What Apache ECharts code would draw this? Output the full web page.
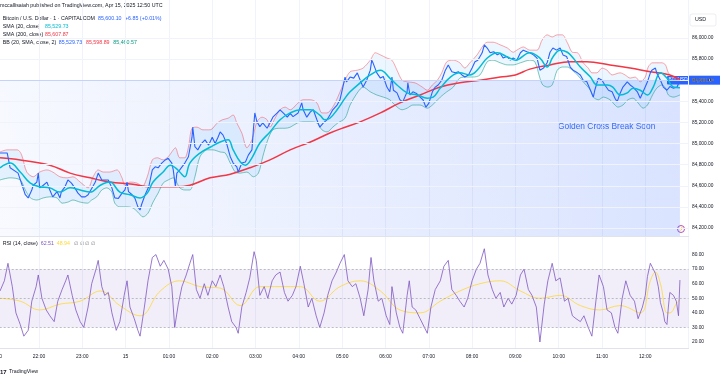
<!DOCTYPE html>
<html><head><meta charset="utf-8">
<script src="https://cdn.jsdelivr.net/npm/echarts@6/dist/echarts.min.js"></script>
<style>html,body{margin:0;padding:0;background:#fff}#c{width:720px;height:380px}</style>
</head><body><div id="c"></div>
<script>
// x values are minutes after 21:00 (Apr 14); 180 = 00:00 Apr 15
const priceMin = [6,16,20,31,41,45,50,52,57,59,61,66,71,75,79,85,89,91,96,100,105,110,114,119,124,128,133,138,142,147,152,156,161,165,170,175,179,182,184,189,193,197,200,202,207,212,217,221,225,230,235,239,244,246,249,251,255,262,267,272,273,276,280,285,290,295,300,304,308,311,315,320,325,329,334,336,341,346,350,355,357,359,362,366,370,376,380,384,390,394,399,404,408,412,419,424,426,431,436,440,445,449,454,459,463,467,473,477,481,484,486,491,496,501,505,509,514,519,521,523,528,533,537,542,546,549,551,556,560,564,570,571,574,578,583,588,592,596,600,605,609,613,618,623,627,632,637,641,646,650,655,660,664,668,674,677,681,685,690,695,699,703,708,713,717,722,727,731,736,740,745,750,754,759,764,768,772,777,782,786,791,796,800,806,810,814,819,824,828,830,835,840,844,849,854,858,861,865,869,875,879,883,889,893,897,903,907,909,914,916,921,925,930,934,939,944,948];
const priceVal = [84910,84910,84770,84720,84515,84485,84560,84605,84635,84720,84580,84605,84635,84560,84495,84545,84485,84545,84590,84655,84625,84575,84530,84495,84495,84515,84575,84635,84720,84655,84655,84655,84580,84485,84480,84530,84560,84635,84545,84515,84480,84400,84370,84420,84515,84590,84750,84780,84770,84815,84845,84860,84815,84750,84590,84720,84750,84815,84875,85060,85155,84970,84940,85000,85035,84985,85060,85000,85060,85110,85080,85000,84875,84815,84780,84730,84815,84825,84890,84940,85130,85290,85205,85160,85195,85145,85195,85250,85290,85320,85285,85250,85285,85255,85290,85385,85320,85250,85300,85320,85225,85155,85195,85225,85270,85320,85365,85415,85535,85630,85585,85630,85620,85670,85600,85535,85600,85695,85790,85760,85670,85620,85635,85535,85490,85630,85505,85480,85415,85395,85490,85575,85460,85490,85475,85440,85415,85345,85380,85490,85535,85555,85600,85695,85745,85680,85670,85680,85650,85630,85650,85715,85775,85790,85860,85935,85905,85860,85870,85840,85855,85810,85825,85790,85810,85790,85860,85885,85870,85860,85840,85810,85695,85715,85765,85865,85905,85885,85905,85840,85825,85725,85695,85670,85650,85600,85585,85505,85440,85505,85620,85600,85555,85505,85490,85430,85395,85475,85535,85585,85555,85535,85490,85430,85490,85585,85670,85695,85715,85665,85600,85535,85505,85540,85525,85535,85600.10];

const sma200Min = [6,34,75,103,131,158,190,214,249,269,297,325,352,380,408,436,463,484,505,533,560,588,616,643,671,699,720,740,768,796,819,851,879,907,934,948];
const sma200Val = [84865,84845,84795,84720,84675,84635,84615,84590,84590,84605,84675,84710,84770,84845,84940,85015,85100,85155,85205,85290,85385,85460,85535,85575,85600,85630,85650,85705,85745,85775,85775,85745,85715,85680,85650,85607.87];

const sma20Min = [6,20,34,48,61,75,89,103,117,131,145,158,172,186,200,210,218,232,242,249,255,262,269,283,297,311,322,329,339,346,355,366,380,394,408,422,436,449,456,463,473,484,491,505,519,533,546,556,570,584,598,606,616,630,643,657,667,681,695,709,720,740,754,764,772,782,792,800,810,824,833,847,855,865,875,883,893,903,911,921,930,939,948];
const sma20Val = [84770,84815,84730,84625,84590,84580,84540,84580,84560,84540,84605,84635,84540,84515,84485,84530,84635,84730,84795,84770,84730,84685,84815,84910,84965,85015,85035,84940,84825,84795,84865,85005,85110,85225,85290,85320,85320,85270,85225,85240,85320,85430,85490,85575,85650,85695,85620,85555,85480,85460,85430,85440,85525,85630,85670,85650,85695,85810,85860,85820,85790,85860,85810,85725,85820,85885,85865,85810,85725,85630,85555,85555,85535,85460,85480,85525,85505,85460,85535,85670,85620,85535,85529.73];

const bbUpperMin = [6,16,30,36,43,52,61,71,79,89,99,107,117,128,135,142,149,158,168,175,179,186,196,203,210,217,224,232,239,246,249,255,262,267,272,279,287,297,307,314,322,329,334,341,348,355,362,369,376,380,387,394,401,408,419,426,436,445,452,459,467,474,484,491,501,509,519,526,533,542,549,556,563,570,581,591,598,605,612,618,625,634,643,650,657,667,674,681,689,699,709,717,722,731,740,750,757,764,771,778,785,792,799,806,814,821,826,833,840,847,854,865,872,879,886,893,900,904,910,916,923,928,932,939,948];
const bbUpperVal = [84920,84940,84940,84890,84730,84685,84730,84750,84730,84685,84675,84685,84635,84580,84685,84750,84730,84730,84750,84675,84605,84635,84625,84590,84685,84845,84865,84845,84875,84940,84960,84865,84865,84965,85145,85155,85130,85130,85195,85225,85240,85270,85195,85100,84960,85035,85205,85250,85225,85155,85240,85320,85345,85320,85385,85415,85415,85385,85290,85290,85345,85440,85600,85680,85695,85715,85790,85860,85840,85810,85790,85695,85600,85585,85575,85535,85505,85555,85600,85670,85775,85790,85765,85715,85765,85840,85915,85960,85960,85935,85905,85865,85885,85915,85885,85885,85980,86030,86010,86030,86030,85955,85865,85860,85765,85715,85670,85670,85715,85695,85650,85670,85650,85620,85630,85585,85630,85725,85765,85765,85765,85745,85670,85620,85598.89];

const bbLowerMin = [6,20,34,41,48,57,66,75,85,92,100,107,117,127,133,140,147,154,161,165,172,182,190,197,204,211,218,225,232,239,246,255,262,269,276,283,293,301,311,318,325,332,339,348,357,364,370,377,384,394,401,408,418,426,436,445,452,459,467,474,484,491,502,509,519,528,537,546,553,563,570,578,588,598,605,616,625,634,643,653,661,671,681,689,699,709,717,727,740,747,754,758,765,771,778,785,792,799,806,814,824,828,835,842,851,858,862,869,876,883,890,897,903,910,916,923,928,932,939,948];
const bbLowerVal = [84655,84675,84655,84560,84485,84465,84485,84495,84485,84435,84445,84465,84445,84435,84465,84495,84560,84580,84540,84435,84400,84400,84390,84350,84305,84340,84445,84530,84625,84655,84675,84580,84560,84560,84685,84875,84940,84940,84920,84910,84815,84730,84720,84730,84685,84720,84875,85035,85130,85145,85145,85155,85195,85205,85205,85195,85130,85110,85155,85195,85240,85365,85490,85535,85490,85460,85440,85415,85365,85320,85335,85365,85365,85335,85365,85440,85490,85535,85620,85630,85630,85650,85775,85790,85765,85745,85745,85765,85790,85775,85620,85555,85535,85555,85695,85725,85725,85695,85650,85585,85505,85440,85415,85440,85415,85365,85345,85365,85415,85430,85385,85335,85365,85460,85525,85555,85525,85460,85440,85460.57];

const rsiMin = [6,12,17,23,28,34,39,45,50,56,59,64,70,75,81,86,92,97,100,106,111,117,122,128,133,139,142,147,151,156,161,167,172,178,182,186,192,197,200,206,211,217,222,228,233,239,244,248,253,258,264,269,273,278,283,289,294,300,305,311,316,322,327,333,336,341,347,352,358,361,366,372,377,383,388,394,400,405,411,416,422,427,433,438,444,449,455,460,466,472,477,483,488,494,499,505,510,516,520,524,530,535,541,546,549,555,560,564,570,573,577,582,588,594,598,603,609,616,621,627,632,638,643,649,654,660,666,671,677,682,688,693,699,704,710,715,721,727,732,738,743,749,754,760,765,771,776,782,788,793,799,804,810,815,821,826,832,836,842,847,853,858,862,868,873,879,885,890,896,900,903,907,909,914,918,921,925,927,930,932,934,939,943,946,948];
const rsiVal = [55,62,74,58,40,32,24,28,48,58,66,50,42,38,34,48,56,62,66,52,42,34,30,44,60,70,76,58,52,54,40,28,34,52,62,44,36,28,24,44,62,78,80,72,76,70,58,30,46,58,66,74,80,56,50,60,52,62,58,66,58,44,34,30,26,44,54,64,82,76,52,58,50,62,66,68,54,48,52,58,72,60,44,50,38,30,40,52,62,68,74,80,62,58,60,50,38,56,78,62,48,50,38,32,58,40,30,26,52,62,44,42,36,30,26,44,56,62,72,76,56,52,48,44,50,62,70,74,84,66,56,50,54,44,50,46,52,66,70,56,52,44,20,46,62,74,62,64,48,50,38,36,34,38,30,24,50,66,58,42,40,30,26,50,62,52,48,36,44,52,65,74,72,67,58,47,40,34,32,44,54,52,48,38,62.51];

const rsiMaMin = [6,34,61,89,117,145,172,200,228,255,283,311,339,366,394,422,449,477,505,533,560,588,616,643,671,699,727,754,782,810,837,865,893,907,914,921,930,934,944,948];
const rsiMaVal = [50,48,42,46,48,55,45,38,55,62,58,57,45,58,58,58,48,58,62,55,42,40,48,55,60,62,55,50,52,45,42,45,40,62,68,60,40,40,47,48.94];

const priceTicks = [84200,84400,84600,84800,85000,85200,85400,85600,85800,86000];
const rsiTicks = [20,30,40,50,60,70,80];

const FONT = 'Liberation Sans, Arial, sans-serif';
const zip = (a, b) => a.map((v, i) => [v, b[i]]);
const lastPrice = priceVal[priceVal.length - 1];
const lastMin = priceMin[priceMin.length - 1];

const chart = echarts.init(document.getElementById('c'), null, {renderer: 'canvas'});

const timeFmt = v => {
  const h = (21 + v / 60) % 24;
  if (h === 0) return '15';
  return String(h).padStart(2, '0') + ':00';
};

const FS = 5.3;
const txt = (x, y, s, color, extra) => Object.assign({
  type: 'text', x: x, y: y, silent: true,
  style: {text: s, fill: color || '#131722', font: FS + 'px ' + FONT, textVerticalAlign: 'middle'}
}, extra || {});

const hdr = [
  txt(0, 6, 'mccallisaiah published on TradingView.com, Apr 15, 2025 12:50 UTC'),
  txt(2.7, 19, 'Bitcoin / U.S. Dollar · 1 · CAPITALCOM'),
  txt(98, 19, '85,600.10', '#2962ff'),
  txt(125, 19, '+6.85 (+0.01%)', '#2962ff'),
  txt(2.7, 26.7, 'SMA (20, close)'),
  txt(45, 26.7, '85,529.73', '#00bcd4'),
  txt(2.7, 34.3, 'SMA (200, close)'),
  txt(45, 34.3, '85,607.87', '#f23645'),
  txt(2.7, 42.3, 'BB (20, SMA, close, 2)'),
  txt(58.7, 42.3, '85,529.73', '#2962ff'),
  txt(86, 42.3, '85,598.89', '#f23645'),
  txt(113.3, 42.3, '85,460.57', '#089981'),
  txt(2.7, 244, 'RSI (14, close)'),
  txt(40.7, 244, '62.51', '#7e57c2'),
  txt(56.7, 244, '48.94', '#fdd835'),
  txt(74, 244, '∅', '#787b86'),
  txt(79.5, 244, '∅', '#787b86'),
  txt(85, 244, '∅', '#787b86'),
  txt(90.7, 244, '∅', '#787b86'),
  {type: 'rect', shape: {x: 690, y: 14, width: 26, height: 12, r: 2}, silent: true,
   style: {fill: '#fff', stroke: '#e0e3eb', lineWidth: 0.6}},
  txt(695, 20, 'USD'),
  {type: 'text', x: 558, y: 127, silent: true,
   style: {text: 'Golden Cross Break Soon', fill: '#3a6cf4', font: '8.4px ' + FONT, textVerticalAlign: 'middle'}},
  {type: 'text', x: 0, y: 372, silent: true,
   style: {text: '17', fill: '#131722', font: 'bold 6px ' + FONT, textVerticalAlign: 'middle'}},
  txt(9, 372, 'TradingView'),
  {type: 'circle', shape: {cx: 681, cy: 229, r: 3.5}, silent: true,
   style: {fill: '#fff', stroke: '#9c27b0', lineWidth: 0.8}},
  {type: 'text', x: 681, y: 229, silent: true,
   style: {text: '⚡', fill: '#9c27b0', font: '4px ' + FONT, textAlign: 'center', textVerticalAlign: 'middle'}}
];

const option = {
  animation: false,
  backgroundColor: '#ffffff',
  textStyle: {fontFamily: FONT},
  grid: [
    {left: -4.3, right: 31.4, top: 0, height: 236, outerBoundsMode: 'none', containLabel: false},
    {left: -4.3, right: 31.4, top: 237, height: 111, outerBoundsMode: 'none', containLabel: false}
  ],
  xAxis: [
    {type: 'value', gridIndex: 0, min: 0, max: 960, interval: 60,
     axisLine: {show: true, lineStyle: {color: '#e0e3eb', width: 1}}, axisTick: {show: false},
     axisLabel: {show: false}, splitLine: {show: true, lineStyle: {color: '#f0f3fa', width: 1}}},
    {type: 'value', gridIndex: 1, min: 0, max: 960, interval: 60,
     axisLine: {show: true, lineStyle: {color: '#e0e3eb', width: 1}}, axisTick: {show: false},
     axisLabel: {show: true, formatter: timeFmt, fontSize: 5, color: '#131722', margin: 6, fontFamily: FONT,
       showMaxLabel: false, showMinLabel: true, hideOverlap: false},
     splitLine: {show: true, lineStyle: {color: '#f0f3fa', width: 1}}}
  ],
  yAxis: [
    {type: 'value', gridIndex: 0, position: 'right', min: 84124, max: 86360, scale: true,
     axisLine: {show: true, lineStyle: {color: '#e0e3eb', width: 0.8}}, axisTick: {show: false},
     splitLine: {show: false},
     axisLabel: {show: true, customValues: priceTicks, margin: 3.4, fontSize: 4.8, color: '#131722', fontFamily: FONT,
       formatter: v => v.toLocaleString('en-US', {minimumFractionDigits: 2, maximumFractionDigits: 2})}},
    {type: 'value', gridIndex: 1, position: 'right', min: 15.88, max: 92.06, scale: true,
     axisLine: {show: true, lineStyle: {color: '#e0e3eb', width: 0.8}}, axisTick: {show: false},
     splitLine: {show: false},
     axisLabel: {show: true, customValues: rsiTicks, margin: 3.4, fontSize: 4.8, color: '#131722', fontFamily: FONT,
       formatter: v => v.toFixed(2)}}
  ],
  series: [
    {type: 'line', name: 'helper', xAxisIndex: 0, yAxisIndex: 0, z: 0, silent: true,
     data: [[lastMin, lastPrice]], symbol: 'none', lineStyle: {opacity: 0},
     markArea: {silent: true, data: [[
       {xAxis: 0, yAxis: lastPrice, itemStyle: {
         color: {type: 'linear', x: 1, y: 0, x2: 0, y2: 1, colorStops: [
           {offset: 0, color: 'rgba(41,98,255,0.18)'}, {offset: 1, color: 'rgba(41,98,255,0.03)'}]},
         borderWidth: 0}},
       {xAxis: lastMin, yAxis: 84124}
     ]]},
     markLine: {silent: true, symbol: 'none', label: {show: false},
       lineStyle: {color: '#f0f3fa', width: 1, type: 'solid'},
       data: priceTicks.map(v => ({yAxis: v})).concat([[
         {xAxis: 0, yAxis: lastPrice, lineStyle: {color: 'rgba(41,98,255,0.28)', width: 0.8}},
         {xAxis: lastMin, yAxis: lastPrice}]])}
    },
    {type: 'custom', name: 'bbfill', xAxisIndex: 0, yAxisIndex: 0, z: 1, silent: true,
     data: [[bbUpperMin[0], bbUpperVal[0]]],
     renderItem: (params, api) => {
       const pts = [];
       for (let i = 0; i < bbUpperMin.length; i++) pts.push(api.coord([bbUpperMin[i], bbUpperVal[i]]));
       for (let i = bbLowerMin.length - 1; i >= 0; i--) pts.push(api.coord([bbLowerMin[i], bbLowerVal[i]]));
       return {type: 'polygon', shape: {points: pts}, style: {fill: 'rgba(33,150,243,0.09)'}};
     }},
    {type: 'line', name: 'BB upper', xAxisIndex: 0, yAxisIndex: 0, z: 2, silent: true,
     data: zip(bbUpperMin, bbUpperVal), symbol: 'none', smooth: 0.3,
     lineStyle: {color: '#f7525f', width: 0.7, opacity: 0.75}},
    {type: 'line', name: 'BB lower', xAxisIndex: 0, yAxisIndex: 0, z: 2, silent: true,
     data: zip(bbLowerMin, bbLowerVal), symbol: 'none', smooth: 0.3,
     lineStyle: {color: '#089981', width: 0.7, opacity: 0.75}},
    {type: 'line', name: 'SMA 200', xAxisIndex: 0, yAxisIndex: 0, z: 3, silent: true,
     data: zip(sma200Min, sma200Val), symbol: 'none', smooth: 0.4,
     lineStyle: {color: '#f23645', width: 1.5}},
    {type: 'line', name: 'Price', xAxisIndex: 0, yAxisIndex: 0, z: 4, silent: true,
     data: zip(priceMin, priceVal), symbol: 'none',
     lineStyle: {color: '#2962ff', width: 1.1}},
    {type: 'line', name: 'SMA 20', xAxisIndex: 0, yAxisIndex: 0, z: 5, silent: true,
     data: zip(sma20Min, sma20Val), symbol: 'none', smooth: 0.4,
     lineStyle: {color: '#00bcd4', width: 1.5}},
    {type: 'line', name: 'RSI', xAxisIndex: 1, yAxisIndex: 1, z: 4, silent: true,
     data: zip(rsiMin, rsiVal), symbol: 'none',
     lineStyle: {color: '#7e57c2', width: 0.8},
     markArea: {silent: true, itemStyle: {color: 'rgba(126,87,194,0.1)'},
       data: [[{xAxis: 0, yAxis: 70}, {xAxis: 960, yAxis: 30}]]},
     markLine: {silent: true, symbol: 'none', label: {show: false},
       lineStyle: {color: '#9598a1', width: 0.6, type: [2, 2]},
       data: [{yAxis: 70}, {yAxis: 50}, {yAxis: 30}]}},
    {type: 'line', name: 'RSI MA', xAxisIndex: 1, yAxisIndex: 1, z: 3, silent: true,
     data: zip(rsiMaMin, rsiMaVal), symbol: 'none', smooth: 0.4,
     lineStyle: {color: '#fdd835', width: 0.8}}
  ],
  graphic: hdr
};
chart.setOption(option);

// last price labels, positioned through the chart's own scale
const py = chart.convertToPixel({gridIndex: 0}, [lastMin, lastPrice])[1];
chart.setOption({graphic: hdr.concat([
  {type: 'rect', shape: {x: 667, y: py - 4.2, width: 22, height: 8.4, r: 1}, silent: true, style: {fill: '#2962ff'}},
  {type: 'text', x: 678, y: py, silent: true,
   style: {text: 'BTCUSD', fill: '#fff', font: '4.6px ' + FONT, textAlign: 'center', textVerticalAlign: 'middle'}},
  {type: 'rect', shape: {x: 689, y: py - 4.5, width: 31, height: 9}, silent: true, style: {fill: '#2962ff'}},
  {type: 'text', x: 692, y: py, silent: true,
   style: {text: lastPrice.toLocaleString('en-US', {minimumFractionDigits: 2}), fill: '#fff', font: '4.8px ' + FONT, textVerticalAlign: 'middle'}}
])});
</script></body></html>
